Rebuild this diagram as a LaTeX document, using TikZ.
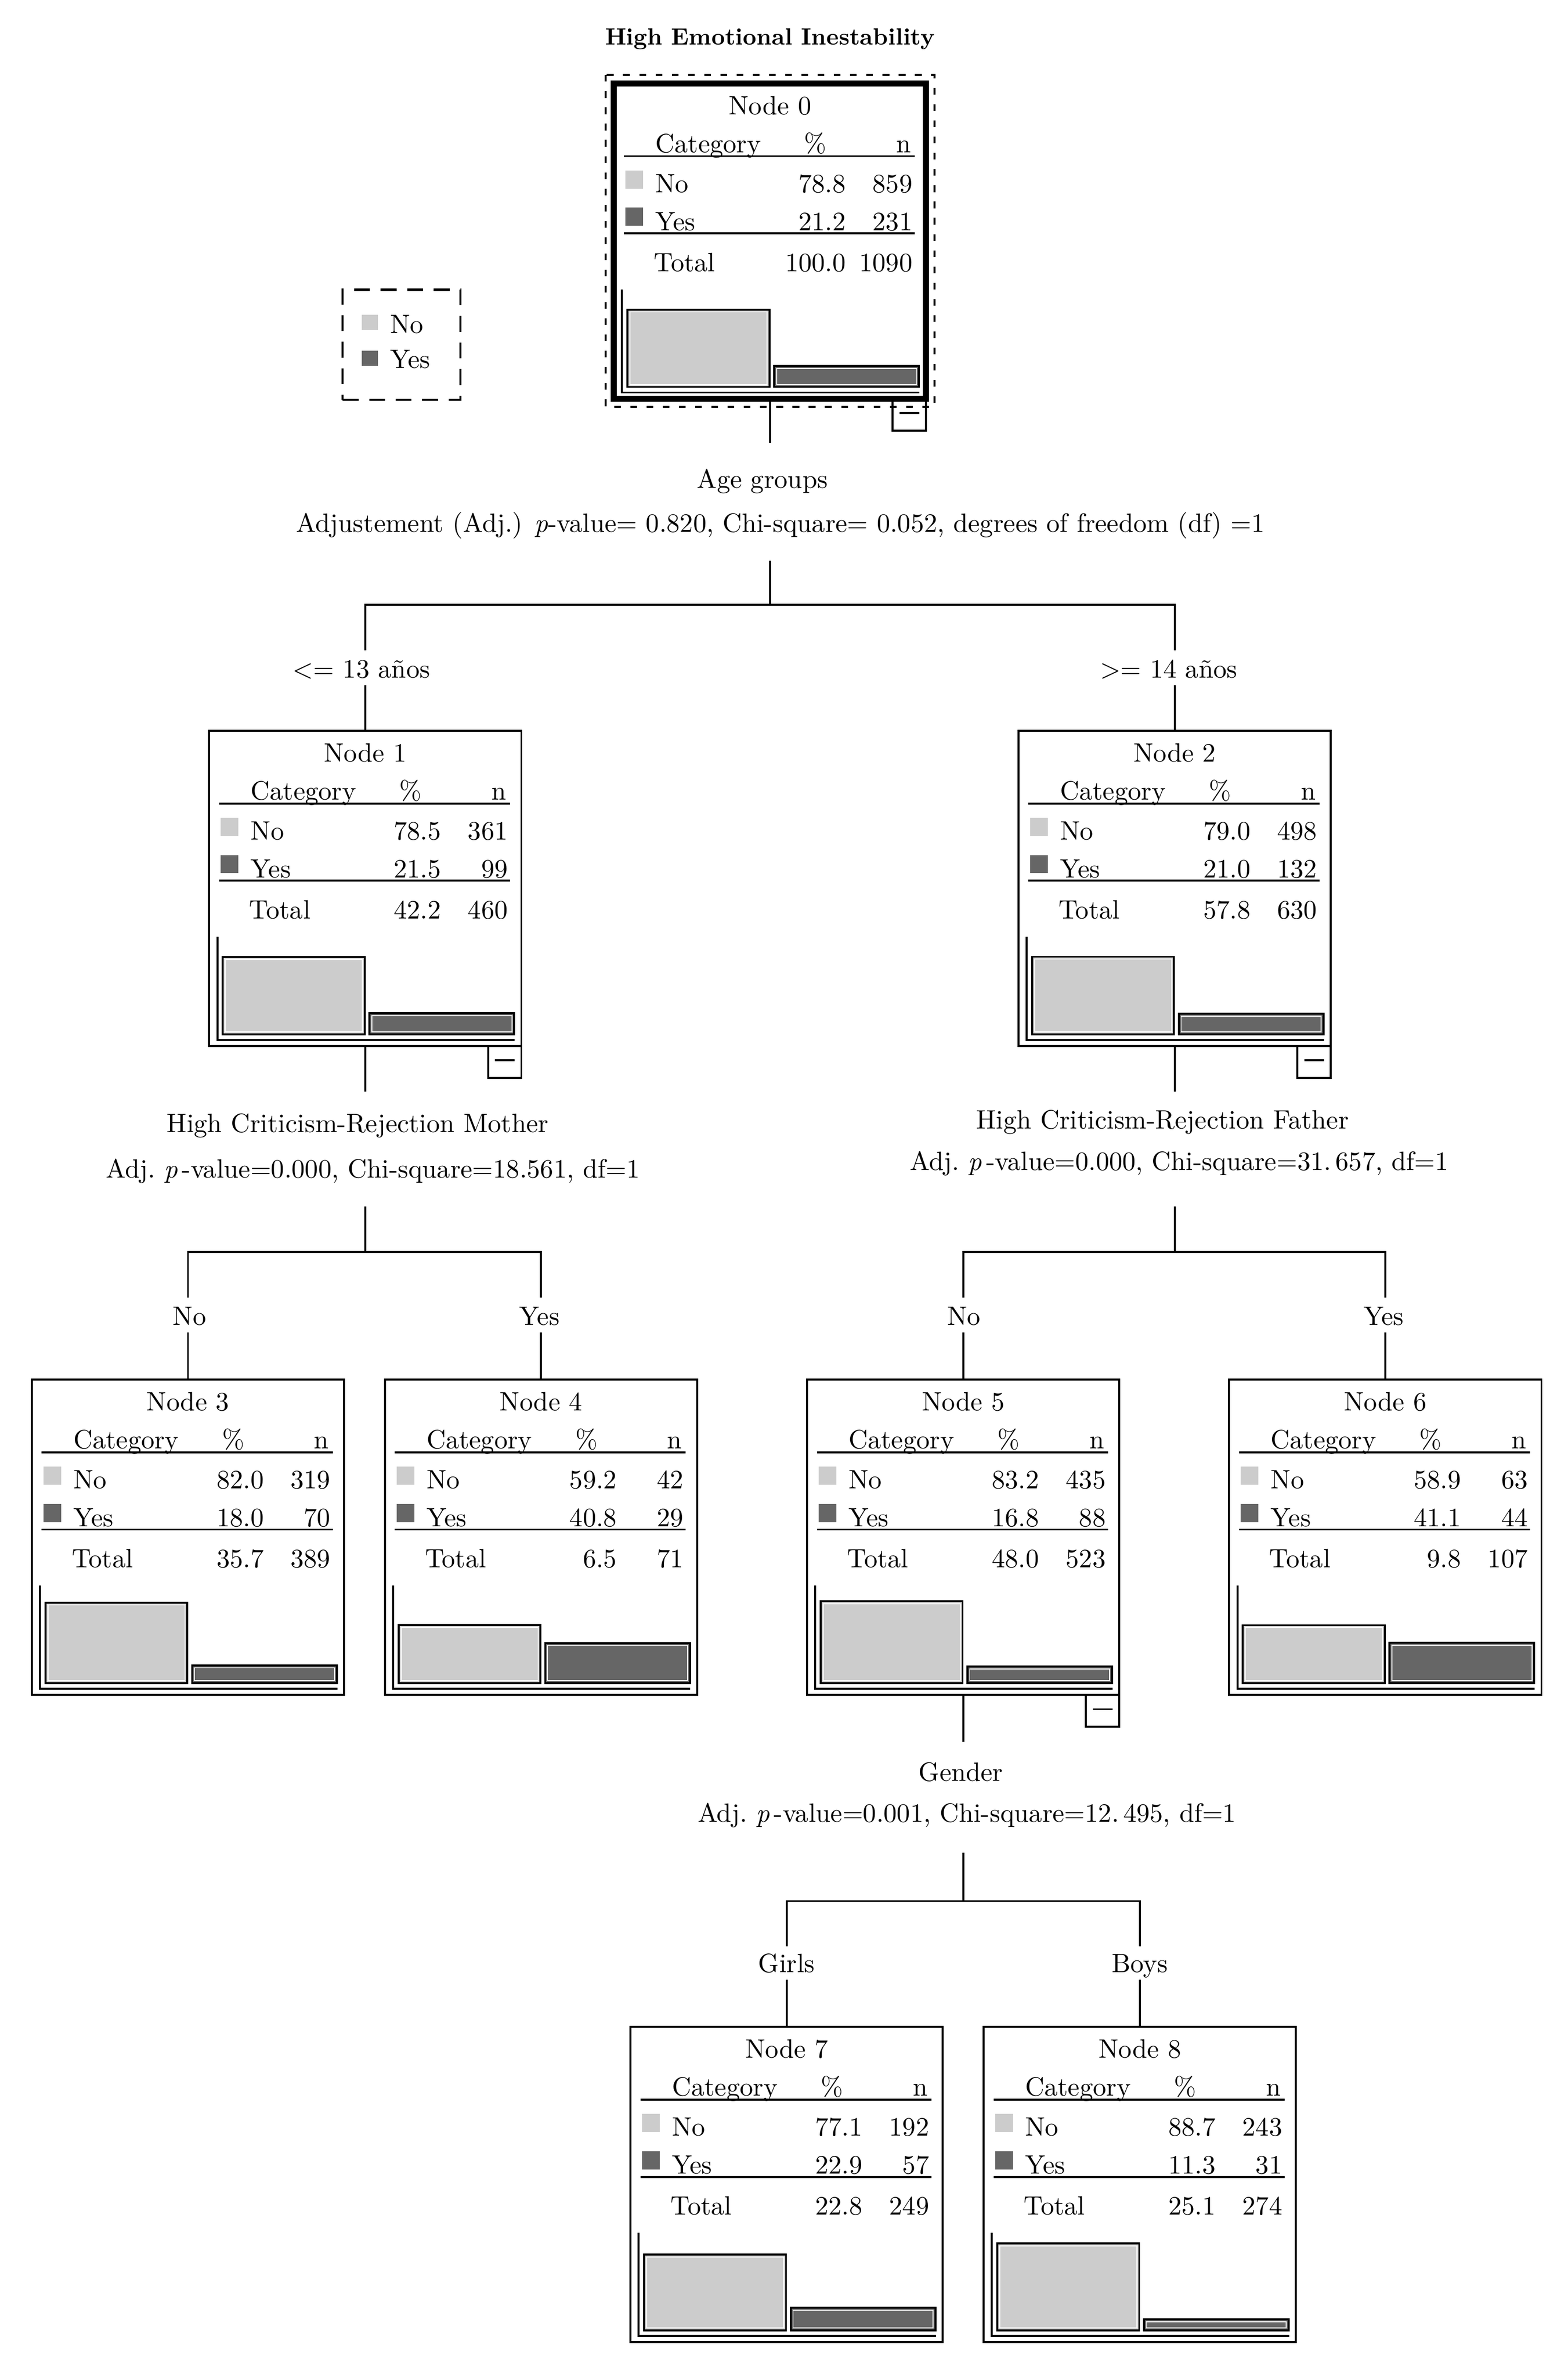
\documentclass[tikz,border=0pt]{standalone}
\usepackage{fontspec}
\setmainfont{lmroman10-regular}[Extension=.otf, BoldFont=lmroman10-bold, ItalicFont=lmroman10-italic, BoldItalicFont=lmroman10-bolditalic]
\definecolor{barlight}{HTML}{CCCCCC}
\definecolor{bardark}{HTML}{666666}
\tikzset{
  txt/.style={font=\fontsize{17.5}{21}\selectfont, inner sep=0pt, outer sep=0pt},
  ttl/.style={font=\fontsize{15.5}{19}\selectfont\bfseries, inner sep=0pt, outer sep=0pt},
  box/.style={draw, line width=1.3pt, minimum width=206pt, minimum height=208pt, inner sep=0pt, outer sep=0pt, anchor=north west},
  minusbox/.style={draw, line width=1.3pt, minimum width=22pt, minimum height=21pt, inner sep=0pt, outer sep=0pt, anchor=north east},
  tabrule/.style={line width=1.3pt},
  conn/.style={line width=1.3pt},
  barl/.style={draw=black, line width=1.3pt, fill=barlight},
  bard/.style={draw=black, line width=1.3pt, fill=bardark},
  barin/.style={draw=white, line width=0.6pt},
  axisl/.style={line width=1.3pt},
}
% #1 number, #2 left, #3 top, #4 %No, #5 nNo, #6 %Yes, #7 nYes, #8 %Total, #9 nTotal
\newcommand\statnode[9]{%
  \node[box] (n#1) at (#2,#3) {};
  \begin{scope}[shift={(n#1.north west)}]
    \node[txt,anchor=base] (n#1-title) at (103,20.5) {Node #1};
    \node[txt,anchor=base west] (n#1-cat) at (27.5,45.5) {Category};
    \node[txt,anchor=base] (n#1-pc) at (133,45.5) {\%};
    \node[txt,anchor=base east] (n#1-n) at (196,45.5) {n};
    \draw[tabrule] (6.5,48) -- (198.5,48);
    \fill[barlight] (7.7,57.5) rectangle (19.3,69.5);
    \fill[bardark] (7.7,82) rectangle (19.3,94);
    \node[txt,anchor=base west] (n#1-no) at (27.5,72) {No};
    \node[txt,anchor=base east] (n#1-nop) at (153,72) {#4};
    \node[txt,anchor=base east] (n#1-non) at (197,72) {#5};
    \node[txt,anchor=base west] (n#1-yes) at (27.5,97) {Yes};
    \node[txt,anchor=base east] (n#1-yesp) at (153,97) {#6};
    \node[txt,anchor=base east] (n#1-yesn) at (197,97) {#7};
    \draw[tabrule] (6.5,99) -- (198.5,99);
    \node[txt,anchor=base west] (n#1-tot) at (26.5,124) {Total};
    \node[txt,anchor=base east] (n#1-totp) at (153,124) {#8};
    \node[txt,anchor=base east] (n#1-totn) at (197,124) {#9};
    \pgfmathsetmacro\topNo{200.2-0.647*#4}
    \pgfmathsetmacro\topYes{200.2-0.647*#6}
    \draw[barl] (9,\topNo) rectangle (102.6,200.2);
    \draw[barin] (10.6,{\topNo+1.6}) rectangle (101,198.6);
    \draw[bard] (105.7,\topYes) rectangle (201.3,200.2);
    \draw[barin] (107.3,{\topYes+1.6}) rectangle (199.7,198.6);
    \draw[axisl] (5.4,136) -- (5.4,203.9) -- (201.5,203.9);
  \end{scope}}
\newcommand\minusmark[1]{%
  \node[minusbox] (m#1) at (n#1.south east) {};
  \draw[line width=1.3pt] ([xshift=-6.5pt,yshift=1pt]m#1.center) -- ([xshift=6.5pt,yshift=1pt]m#1.center);}

\begin{document}
\begin{tikzpicture}[x=1pt,y=-1pt]
\useasboundingbox (0,0) rectangle (1034.4,1568);
\fill[white] (0,0) rectangle (1034.4,1568);

% title
\node[ttl,anchor=base] (title) at (508,29.5) {High Emotional Inestability};

% legend
\node[draw, line width=1.5pt, dash pattern=on 10.5pt off 7pt, minimum width=77.7pt, minimum height=72.7pt, inner sep=0pt, anchor=north west] (leg) at (225.3,190.3) {};
\fill[barlight] (238.7,207.6) rectangle (249.3,217.7);
\fill[bardark] (238.7,231.3) rectangle (249.3,241.4);
\node[txt,anchor=base west] (leg-no) at (257.6,219.7) {No};
\node[txt,anchor=base west] (leg-yes) at (257.6,243) {Yes};

% root node
\begin{scope}[box/.append style={line width=4pt}]
\statnode{0}{405}{55}{78.8}{859}{21.2}{231}{100.0}{1090}
\end{scope}
\draw[line width=1.3pt, dash pattern=on 4.4pt off 6.3pt] (399.5,49.5) rectangle (616.5,268.5);
\minusmark{0}

% level 0 split
\coordinate (c0a) at (508,292);
\draw[conn] (n0.south) -- (c0a);
\node[txt,anchor=base] (s0a) at (503,322) {Age groups};
\node[txt,anchor=base] (s0b) at (515,351) {Adjustement (Adj.) \textit{p}-value= 0.820, Chi-square= 0.052, degrees of freedom (df) =1};
\coordinate (c0b) at (508,370);
\coordinate (j0) at (508,399);
\coordinate (j0l) at (241,399);
\coordinate (j0r) at (775,399);
\coordinate (e1) at (241,429);
\coordinate (e2) at (775,429);
\coordinate (f1) at (241,452);
\coordinate (f2) at (775,452);
\draw[conn] (c0b) -- (j0);
\draw[conn] (e1) -- (j0l) -- (j0r) -- (e2);
\node[txt,anchor=base] (b1) at (238.5,447) {<= 13 años};
\node[txt,anchor=base] (b2) at (771,447) {>= 14 años};

\statnode{1}{138}{482}{78.5}{361}{21.5}{99}{42.2}{460}
\statnode{2}{672}{482}{79.0}{498}{21.0}{132}{57.8}{630}
\minusmark{1}
\minusmark{2}
\draw[conn] (f1) -- (n1.north);
\draw[conn] (f2) -- (n2.north);

% level 1 splits
\coordinate (g1) at (241,720);
\coordinate (g2) at (775,720);
\draw[conn] (n1.south) -- (g1);
\draw[conn] (n2.south) -- (g2);
\node[txt,anchor=base] (s1a) at (236,747) {High Criticism-Rejection Mother};
\node[txt,anchor=base] (s1b) at (246,777) {Adj.\ \textit{p}\,-value=0.000, Chi-square=18.561, df=1};
\node[txt,anchor=base] (s2a) at (767,744.5) {High Criticism-Rejection Father};
\node[txt,anchor=base] (s2b) at (778,772) {Adj.\ \textit{p}\,-value=0.000, Chi-square=31.\,657, df=1};

\coordinate (h1) at (241,796);
\coordinate (j1) at (241,826);
\coordinate (j1l) at (124,826);
\coordinate (j1r) at (357,826);
\coordinate (e3) at (124,856);
\coordinate (e4) at (357,856);
\coordinate (f3) at (124,879);
\coordinate (f4) at (357,879);
\draw[conn] (h1) -- (j1);
\draw[conn] (e3) -- (j1l) -- (j1r) -- (e4);

\coordinate (h2) at (775,796);
\coordinate (j2) at (775,826);
\coordinate (j2l) at (635.5,826);
\coordinate (j2r) at (914,826);
\coordinate (e5) at (635.5,856);
\coordinate (e6) at (914,856);
\coordinate (f5) at (635.5,879);
\coordinate (f6) at (914,879);
\draw[conn] (h2) -- (j2);
\draw[conn] (e5) -- (j2l) -- (j2r) -- (e6);

\node[txt,anchor=base] (b3) at (125,874) {No};
\node[txt,anchor=base] (b4) at (356,874) {Yes};
\node[txt,anchor=base] (b5) at (636,874) {No};
\node[txt,anchor=base] (b6) at (913,874) {Yes};

\statnode{3}{21}{910}{82.0}{319}{18.0}{70}{35.7}{389}
\statnode{4}{254}{910}{59.2}{42}{40.8}{29}{6.5}{71}
\statnode{5}{532.5}{910}{83.2}{435}{16.8}{88}{48.0}{523}
\statnode{6}{811}{910}{58.9}{63}{41.1}{44}{9.8}{107}
\minusmark{5}
\draw[conn] (f3) -- (n3.north);
\draw[conn] (f4) -- (n4.north);
\draw[conn] (f5) -- (n5.north);
\draw[conn] (f6) -- (n6.north);

% level 2 split
\coordinate (g5) at (635.5,1149);
\draw[conn] (n5.south) -- (g5);
\node[txt,anchor=base] (s5a) at (634,1175) {Gender};
\node[txt,anchor=base] (s5b) at (638,1202) {Adj.\ \textit{p}\,-value=0.001, Chi-square=12.\,495, df=1};
\coordinate (h5) at (635.5,1222);
\coordinate (j5) at (635.5,1254);
\coordinate (j5l) at (519,1254);
\coordinate (j5r) at (752,1254);
\coordinate (e7) at (519,1284);
\coordinate (e8) at (752,1284);
\coordinate (f7) at (519,1306);
\coordinate (f8) at (752,1306);
\draw[conn] (h5) -- (j5);
\draw[conn] (e7) -- (j5l) -- (j5r) -- (e8);
\node[txt,anchor=base] (b7) at (519,1301) {Girls};
\node[txt,anchor=base] (b8) at (752,1301) {Boys};

\statnode{7}{416}{1337}{77.1}{192}{22.9}{57}{22.8}{249}
\statnode{8}{649}{1337}{88.7}{243}{11.3}{31}{25.1}{274}
\draw[conn] (f7) -- (n7.north);
\draw[conn] (f8) -- (n8.north);
\end{tikzpicture}
\end{document}
